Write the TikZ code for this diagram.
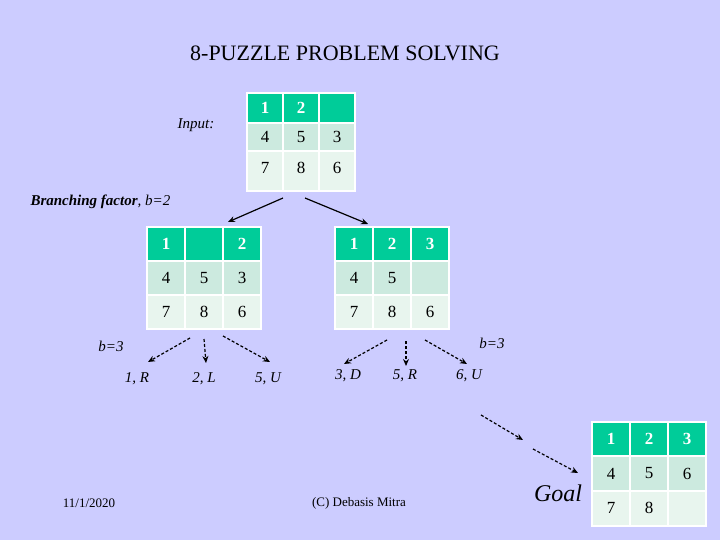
\documentclass[tikz,border=0pt]{standalone}
\usepackage{fontspec}
\setmainfont{Liberation Serif}
\usetikzlibrary{arrows.meta}
\definecolor{bg}{HTML}{CCCCFF}
\definecolor{hd}{HTML}{00CC99}
\definecolor{ra}{HTML}{CCEADF}
\definecolor{rb}{HTML}{E8F5EE}
\tikzset{
 solidarr/.style={very thick,-{Stealth[length=7pt,width=6pt]}},
 dasharr/.style={very thick,dashed,dash pattern=on 3pt off 2pt,-{Stealth[length=7pt,width=6pt]}},
 lbl/.style={font=\itshape\fontsize{15}{15}\selectfont},
 hdtxt/.style={text=white,font=\bfseries\fontsize{17}{17}\selectfont},
 ctxt/.style={font=\fontsize{17}{17}\selectfont}
}
% grid: #1 x0, #2 y0, #3 cell width, #4 h1, #5 h2, #6 h3, #7 row1 list, #8 row2 list, #9 row3 list
\newcommand{\pgrid}[9]{%
 \pgfmathsetmacro{\ya}{#2+#4}\pgfmathsetmacro{\yb}{\ya+#5}\pgfmathsetmacro{\yc}{\yb+#6}%
 \pgfmathsetmacro{\xe}{#1+3*#3}%
 \fill[hd] (#1,#2) rectangle (\xe,\ya);
 \fill[ra] (#1,\ya) rectangle (\xe,\yb);
 \fill[rb] (#1,\yb) rectangle (\xe,\yc);
 \draw[white,line width=2.5pt] (#1,#2) rectangle (\xe,\yc);
 \foreach \i in {1,2} \draw[white,line width=2.5pt] ({#1+\i*#3},#2) -- ({#1+\i*#3},\yc);
 \draw[white,line width=2.5pt] (#1,\ya) -- (\xe,\ya) (#1,\yb) -- (\xe,\yb);
 \foreach \t [count=\i from 0] in {#7} \node[hdtxt] at ({#1+(\i+0.5)*#3},{#2+#4/2}) {\t};
 \foreach \t [count=\i from 0] in {#8} \node[ctxt] at ({#1+(\i+0.5)*#3},{\ya+#5/2}) {\t};
 \foreach \t [count=\i from 0] in {#9} \node[ctxt] at ({#1+(\i+0.5)*#3},{\yb+17}) {\t};
}
\begin{document}
\begin{tikzpicture}[x=1pt,y=-1pt]
\fill[bg] (0,0) rectangle (720,540);
\useasboundingbox (0,0) rectangle (720,540);
\node[font=\fontsize{22}{22}\selectfont] (title) at (345,53) {8-PUZZLE PROBLEM SOLVING};
\node[lbl] (input) at (196,125) {Input:};
\pgrid{247}{93}{36}{30}{28}{40}{1,2,{}}{4,5,3}{7,8,6}
\node[font=\fontsize{15}{15}\selectfont, anchor=west] (bf) at (27,202) {\textbf{\textit{Branching factor}}\textit{, b=2}};
\pgrid{147}{227}{38}{34}{34}{34}{1,{},2}{4,5,3}{7,8,6}
\pgrid{335}{227}{38}{34}{34}{34}{1,2,3}{4,5,{}}{7,8,6}
\pgrid{592}{422}{38}{34}{35}{35}{1,2,3}{4,5,6}{7,8,{}}
\coordinate (t1) at (283,198); \coordinate (t2) at (305,198);
\coordinate (l) at (228,222); \coordinate (r) at (368,224);
\draw[solidarr] (t1) -- (l);
\draw[solidarr] (t2) -- (r);
\coordinate (la) at (190,338); \coordinate (lb) at (204,339); \coordinate (lc) at (223,336);
\coordinate (la2) at (148,362); \coordinate (lb2) at (206,363); \coordinate (lc2) at (270,362);
\draw[dasharr] (la) -- (la2); \draw[dasharr] (lb) -- (lb2); \draw[dasharr] (lc) -- (lc2);
\coordinate (ra) at (387,340); \coordinate (rb) at (406,341); \coordinate (rc) at (425,340);
\coordinate (ra2) at (344,364); \coordinate (rb2) at (406,366); \coordinate (rc2) at (467,364);
\draw[dasharr] (ra) -- (ra2); \draw[dasharr] (rb) -- (rb2); \draw[dasharr] (rc) -- (rc2);
\coordinate (g1) at (481,415); \coordinate (g2) at (523,440);
\coordinate (g3) at (533,449); \coordinate (g4) at (578,473);
\draw[dasharr] (g1) -- (g2); \draw[dasharr] (g3) -- (g4);
\node[lbl] (b3l) at (111,346) {b=3};
\node[lbl] (b3r) at (492,343) {b=3};
\node[lbl] (n1) at (137,379) {1, R};
\node[lbl] (n2) at (204,379) {2, L};
\node[lbl] (n3) at (268,379) {5, U};
\node[lbl] (n4) at (348,376) {3, D};
\node[lbl] (n5) at (405,376) {5, R};
\node[lbl] (n6) at (469,376) {6, U};
\node[font=\itshape\fontsize{24}{24}\selectfont] (goal) at (558,493) {Goal};
\node[font=\fontsize{13}{13}\selectfont] (date) at (89,503) {11/1/2020};
\node[font=\fontsize{13}{13}\selectfont] (copy) at (359,503) {(C) Debasis Mitra};
\end{tikzpicture}
\end{document}
